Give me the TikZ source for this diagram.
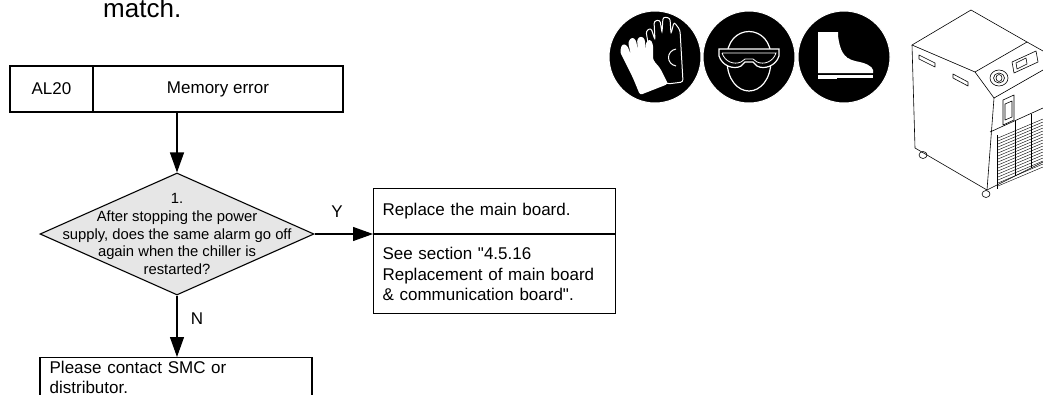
\documentclass[tikz,border=0pt]{standalone}
\usepackage{fontspec}
\setmainfont{Liberation Sans}
% same face without the TeX input mapping, for a straight double quote
\newfontfamily\rawsans{Liberation Sans}
\usetikzlibrary{arrows.meta,shapes.geometric}
\definecolor{qfill}{HTML}{E6E6E6}
\newcommand{\sdq}{{\rawsans"}}
\begin{document}
\begin{tikzpicture}[x=1pt,y=-1pt,
  box/.style={draw, line width=1.1pt, rectangle, inner sep=0pt},
  boxtext/.style={font=\fontsize{17}{20.7}\selectfont},
  decision/.style={draw, line width=1.1pt, diamond, fill=qfill, inner sep=0pt,
                   minimum width=274pt, minimum height=122pt},
  qtext/.style={align=center, inner sep=0pt, font=\fontsize{14.8}{17.6}\selectfont},
  flow/.style={line width=1.1pt, -{Triangle[length=20pt,width=14pt]}},
  lbl/.style={inner sep=0pt, font=\fontsize{17}{20}\selectfont},
  badge/.style={fill=black, draw=white, line width=1pt},
  sketch/.style={line width=0.6pt, line join=round},
]
\useasboundingbox (0,0) rectangle (1043,394);
\clip (0,0) rectangle (1043,394);

% heading fragment
\node[anchor=base west, inner sep=0pt, font=\fontsize{26}{30}\selectfont] (head) at (103,17) {match.};

% alarm header
\node[box, boxtext, minimum width=83pt, minimum height=46pt] (code) at (51.5,89) {AL20};
\node[box, boxtext, minimum width=250pt, minimum height=46pt] (title) at (218,89) {Memory error};

% decision
\node[decision] (q) at (177,234) {};
\node[qtext] (qt) at (q.center) {1.\\After stopping the power\\supply, does the same alarm go off\\again when the chiller is\\restarted?};

% yes branch
\node[box, boxtext, anchor=north west, minimum width=242pt, minimum height=45pt,
      text width=224pt, align=left, inner xsep=9pt] (rtop) at (373,188) {Replace the main board.};
\node[box, boxtext, anchor=north west, minimum width=242pt, minimum height=79pt,
      text width=224pt, align=left, inner xsep=9pt] (rbot) at (rtop.south west)
      {See section \sdq4.5.16\\Replacement of main board\\\& communication board\sdq.};

% no branch
\node[box, anchor=north, minimum width=272pt, minimum height=60pt] (contact) at (176,357) {};
\node[boxtext, anchor=north west, text width=252pt, align=left, inner xsep=10pt, inner ysep=3.5pt]
      (contacttext) at (contact.north west) {Please contact SMC or\\distributor.};

% connectors
\draw[flow] (q.north |- title.south) -- (q.north);
\draw[flow] (q.east) -- (q.east -| rbot.west);
\draw[flow] (q.south) -- (q.south |- contact.north);
\node[lbl] (ylbl) at (337,212) {Y};
\node[lbl] (nlbl) at (197,319) {N};

% protective gloves
\draw[badge] (655,57) circle (46);
\draw[white, fill=black, line width=1pt, rounded corners=2.5pt]
  (667,84) -- (683,82) -- (680,30) -- (674,22) -- (671,34) -- (670,18) -- (663,17)
  -- (662,33) -- (660,20) -- (654,21) -- (655,40) -- (651,28) -- (646,31) -- (650,55) -- cycle;
\draw[white, line width=1pt] (676,49) .. controls (666,51) and (666,64) .. (676,66);
\fill[white, rounded corners=2.5pt]
  (640,95) -- (633,78) -- (620,52) -- (622,44) -- (627,45) -- (631,55) -- (628,42)
  -- (632,37) -- (636,40) -- (638,52) -- (637,39) -- (641,36) -- (645,39) -- (645,53)
  -- (646,42) -- (650,39) -- (653,44) -- (653,60) -- (660,68) -- (668,84) -- cycle;

% safety goggles
\draw[badge] (749,57) circle (46);
\draw[white, line width=1.2pt]
  (727,60) .. controls (725,22) and (773,22) .. (771,60)
  .. controls (771,80) and (760,91) .. (749,91)
  .. controls (738,91) and (727,80) .. (727,60) -- cycle;
\draw[white, fill=black, line width=1.2pt]
  (719,49) -- (779,49) -- (779,56) .. controls (776,66) and (764,70) .. (757,66)
  -- (753,62) -- (745,62) -- (741,66) .. controls (734,70) and (722,66) .. (719,56) -- cycle;
\draw[white, line width=0.8pt]
  (722,53) -- (776,53) .. controls (773,62) and (764,65) .. (757,62)
  -- (753,59) -- (745,59) -- (741,62) .. controls (734,65) and (725,62) .. (722,53);

% safety boots
\draw[badge] (844,57) circle (46);
\fill[white] (818,32) -- (838,32) -- (838,36) .. controls (840,50) and (843,58) .. (855,61)
  .. controls (866,63) and (872,66) .. (873,70) -- (873,73) -- (818,73) -- cycle;
\foreach \dx/\dy in {841/38, 842/42, 843/46, 844/50, 846/54, 848/57}
  \fill[black] (\dx,\dy) circle (0.8);
\fill[white] (818,74.5) rectangle (837,79);
\fill[white] (837,75) rectangle (873,77.5);

% chiller unit
\begin{scope}[sketch]
  \draw (912,45) -- (971,10) -- (1027,42) -- (975,72) -- cycle;
  \draw (1027,42) -- (1043,51);
  \draw (975,72) -- (994,98) -- (1043,70);
  \draw (912,45) -- (915,148) -- (987,190) -- (994,98);
  \draw (987,190) -- (1043,162);
  \draw (990,132) -- (1043,108);
  \draw (997,135) -- (997,189);
  \foreach \k in {0,...,16}
    \draw[line width=0.4pt] (998,{138+3*\k}) -- (1043,{119+3*\k});
  \draw (1015,121) -- (1015,176);
  \draw (1031,114) -- (1031,168);
  \draw (1003,100) -- (1014,95) -- (1014,120) -- (1003,125) -- cycle;
  \draw (1005,104) -- (1012,101) -- (1012,117) -- (1005,120) -- cycle;
  \draw (999,78) ellipse (9 and 8);
  \draw (999,78) ellipse (5.5 and 5);
  \draw (999,78) ellipse (3 and 3.5);
  \draw (1012,62) -- (1036,51) -- (1038,62) -- (1014,73) -- cycle;
  \draw (1016,63) -- (1026,58) -- (1027,64) -- (1017,69) -- cycle;
  \draw (919,55) -- (935,63) -- (935,67) -- (919,59) -- cycle;
  \draw (953,74) -- (968,82) -- (968,86) -- (953,78) -- cycle;
  \draw (923,155) ellipse (4 and 3.5);
  \draw (986,194) ellipse (4 and 3.5);
\end{scope}
\end{tikzpicture}
\end{document}
